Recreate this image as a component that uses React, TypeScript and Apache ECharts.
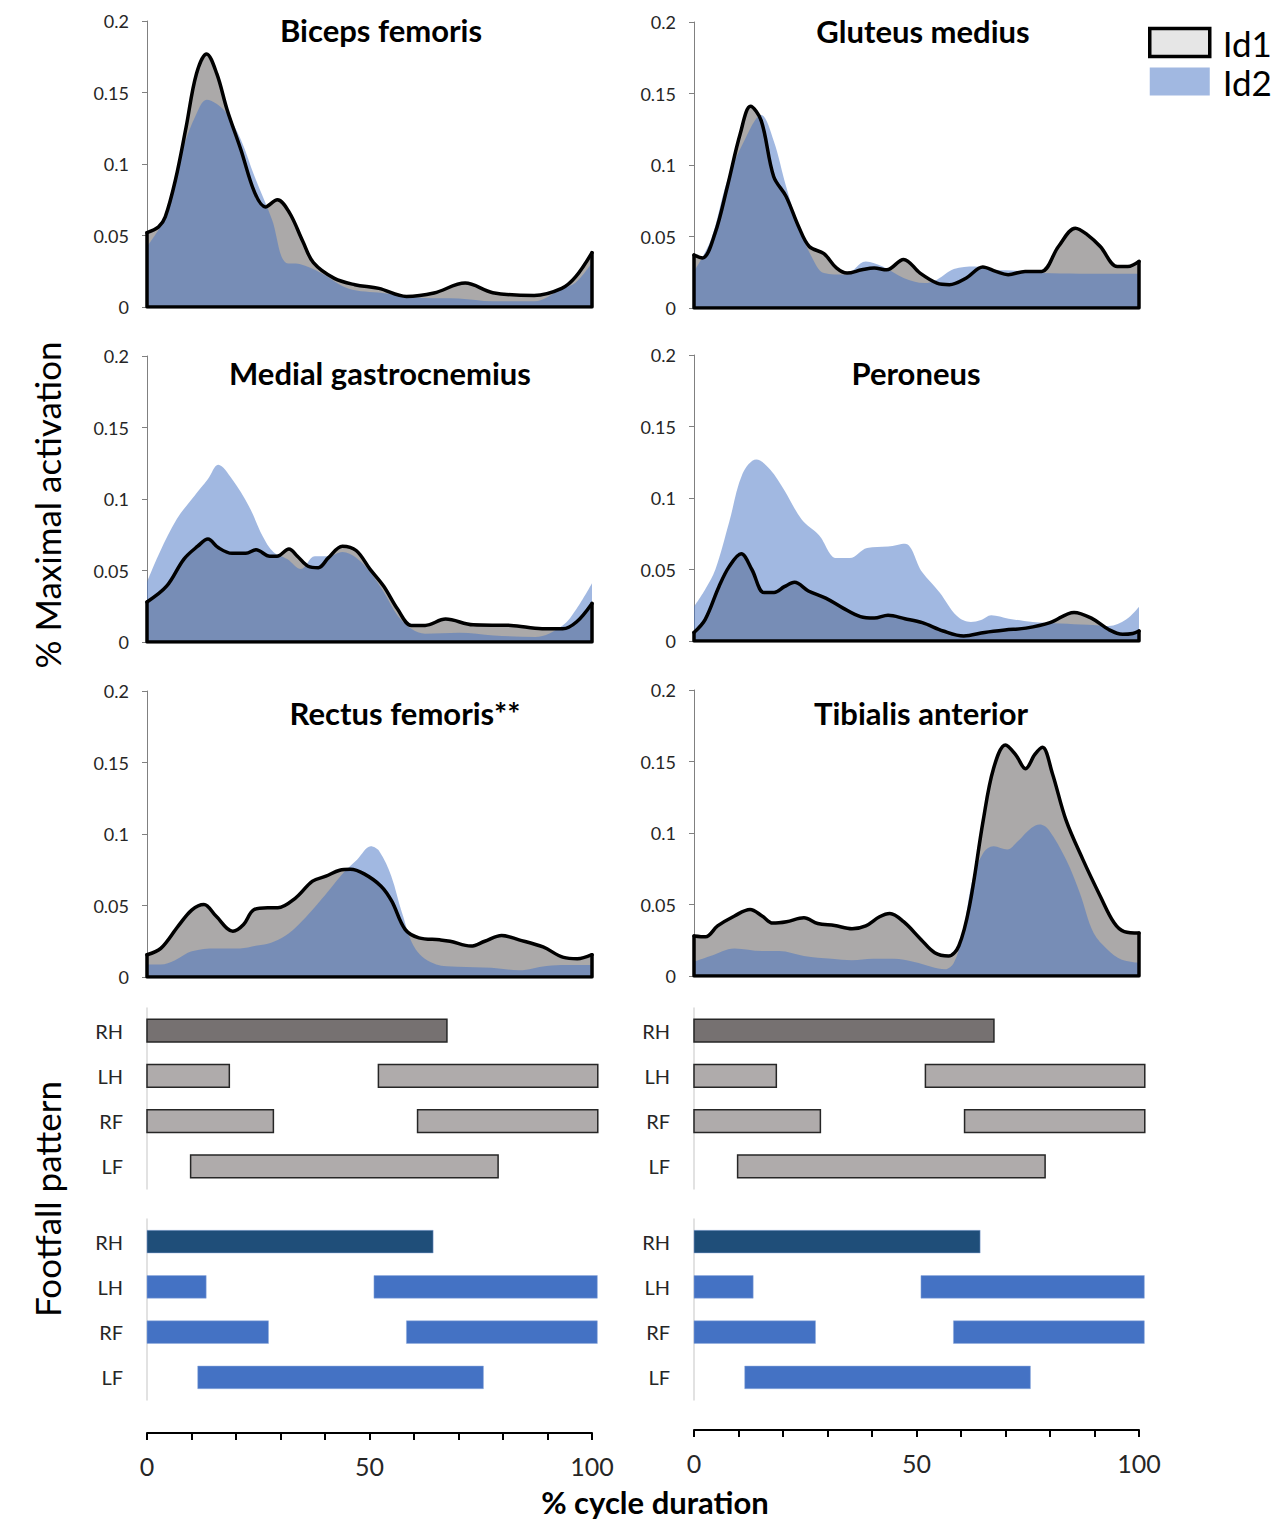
import React, { useEffect, useRef } from 'react';
import * as echarts from 'echarts';

// muscle panels, row by row (left, right)
const muscles = ['Biceps femoris', 'Gluteus medius', 'Medial gastrocnemius', 'Peroneus', 'Rectus femoris**', 'Tibialis anterior'];

// [% cycle, activation]
const bicepsId1 = [[0, 0.052], [2.6, 0.056], [4.1, 0.063], [6.4, 0.089], [8.8, 0.126], [11.1, 0.163], [13.4, 0.177], [15.7, 0.163], [18, 0.138], [21.1, 0.11], [24.2, 0.08], [26.6, 0.07], [29.3, 0.075], [32, 0.066], [35, 0.046], [37.4, 0.031], [42.1, 0.02], [46.7, 0.0156], [52.1, 0.013], [58.3, 0.0074], [64.5, 0.0098], [71.5, 0.0167], [77.7, 0.01], [87, 0.008], [93.2, 0.013], [96.3, 0.021], [100, 0.038]];
const bicepsId2 = [[0, 0.042], [2.6, 0.054], [4.1, 0.062], [6.2, 0.086], [8, 0.11], [11.1, 0.135], [13.4, 0.145], [15.7, 0.142], [18, 0.135], [21.1, 0.117], [24.2, 0.091], [28.1, 0.061], [31.2, 0.031], [34.3, 0.03], [39, 0.024], [45.2, 0.013], [52.9, 0.0098], [62.2, 0.0063], [70, 0.006], [77.7, 0.004], [87, 0.004], [93.2, 0.0126], [96.3, 0.017], [100, 0.031]];

const gluteusId1 = [[0, 0.037], [1.9, 0.035], [4.7, 0.052], [7.5, 0.085], [10.4, 0.122], [12.7, 0.141], [15.1, 0.131], [17.9, 0.092], [20.7, 0.078], [23.5, 0.057], [25.9, 0.043], [29.2, 0.038], [32, 0.028], [34.4, 0.0244], [37.7, 0.0267], [40.5, 0.028], [43.3, 0.0267], [47.1, 0.034], [50.8, 0.0244], [54.6, 0.0174], [57.4, 0.0163], [61.2, 0.021], [64.9, 0.0286], [67.8, 0.0256], [70.6, 0.0233], [74.4, 0.0256], [78.1, 0.0256], [81.9, 0.043], [85.7, 0.0558], [88.5, 0.051], [91.3, 0.043], [95.1, 0.029], [97.5, 0.029], [100, 0.0326]];
const gluteusId2 = [[0, 0.0256], [3.8, 0.0477], [7.5, 0.0895], [11.3, 0.117], [15.1, 0.135], [17.9, 0.117], [20.7, 0.085], [23.5, 0.057], [26.4, 0.036], [29.2, 0.0244], [33.9, 0.0233], [38.6, 0.0326], [42.4, 0.029], [47.1, 0.021], [51.8, 0.0174], [54.6, 0.0198], [58.4, 0.0272], [63.1, 0.029], [67.8, 0.0267], [72.5, 0.026], [78.1, 0.0244], [86.6, 0.024], [100, 0.024]];

const gastrocId1 = [[0, 0.028], [4.4, 0.039], [8.3, 0.058], [11.4, 0.067], [13.7, 0.072], [16, 0.066], [19.1, 0.062], [22.2, 0.062], [24.5, 0.0645], [27.6, 0.06], [29.2, 0.06], [31.9, 0.065], [33.8, 0.06], [36.2, 0.053], [38.5, 0.052], [40.8, 0.059], [43.9, 0.067], [47, 0.064], [50.1, 0.051], [53.2, 0.039], [56.3, 0.023], [59.4, 0.0116], [62.5, 0.0116], [67.1, 0.016], [73.3, 0.012], [81.8, 0.0116], [88.8, 0.0093], [93.4, 0.0093], [96.5, 0.014], [100, 0.027]];
const gastrocId2 = [[0, 0.042], [2.9, 0.063], [6.7, 0.086], [10.6, 0.102], [13.7, 0.114], [16, 0.124], [19.1, 0.114], [22.9, 0.095], [26, 0.074], [28.4, 0.063], [31.5, 0.058], [34.6, 0.051], [37.7, 0.06], [40.8, 0.06], [43.9, 0.063], [47, 0.059], [50.1, 0.049], [53.2, 0.035], [56.3, 0.0186], [59.4, 0.0093], [62.5, 0.0058], [70.2, 0.0065], [77.9, 0.0046], [87.2, 0.0035], [93.4, 0.0116], [96.5, 0.023], [100, 0.041]];

const peroneusId1 = [[0, 0.006], [2.5, 0.015], [5.6, 0.038], [7.9, 0.052], [10.6, 0.061], [13, 0.05], [15.7, 0.034], [18, 0.034], [20.3, 0.038], [22.6, 0.041], [25.7, 0.035], [29.6, 0.03], [33.5, 0.023], [37.4, 0.017], [40.5, 0.016], [43.6, 0.018], [47.4, 0.0156], [51.3, 0.0128], [56, 0.007], [60.6, 0.0035], [65.3, 0.006], [69.9, 0.0077], [74.6, 0.009], [80, 0.0128], [85.4, 0.02], [89.3, 0.016], [93.2, 0.008], [96.3, 0.0047], [98.6, 0.0053], [100, 0.007]];
const peroneusId2 = [[0, 0.024], [2.5, 0.036], [4.8, 0.05], [7.9, 0.083], [10.9, 0.117], [14, 0.127], [17.1, 0.12], [20.2, 0.106], [24.2, 0.085], [28.1, 0.074], [32, 0.058], [35, 0.058], [38.9, 0.065], [43.6, 0.066], [47.4, 0.068], [51.3, 0.048], [55.2, 0.034], [59.1, 0.0174], [62.2, 0.0133], [64.5, 0.0147], [66.8, 0.018], [70.7, 0.0156], [76.1, 0.0133], [82.3, 0.0123], [88.5, 0.0114], [93.2, 0.0105], [97.1, 0.015], [100, 0.024]];

const rectusId1 = [[0, 0.0156], [3.1, 0.02], [7, 0.0356], [10.1, 0.047], [12.8, 0.0507], [15.5, 0.0426], [19.3, 0.032], [21.7, 0.0367], [24, 0.047], [27.1, 0.0484], [29.4, 0.0484], [33.3, 0.055], [37.2, 0.067], [40.2, 0.0705], [43.3, 0.0747], [45.7, 0.0753], [48.8, 0.0721], [52.6, 0.0635], [55, 0.053], [58, 0.0333], [61.1, 0.0274], [65.8, 0.026], [68.1, 0.025], [72.8, 0.0216], [75.9, 0.025], [79.7, 0.029], [83.6, 0.026], [89, 0.021], [93.6, 0.0137], [96.7, 0.0128], [100, 0.0156]];
const rectusId2 = [[0, 0.0088], [3.1, 0.0088], [6.2, 0.0116], [10.1, 0.018], [15.5, 0.02], [20.9, 0.02], [24.8, 0.022], [27.9, 0.024], [31, 0.0286], [34.1, 0.0367], [37.2, 0.047], [41, 0.061], [44.1, 0.0728], [47.2, 0.082], [50.3, 0.0914], [52.2, 0.088], [54.9, 0.0705], [57.3, 0.045], [60.4, 0.0193], [65, 0.0088], [69.7, 0.0072], [77.4, 0.0065], [83.6, 0.0047], [89.8, 0.0077], [94.4, 0.0084], [100, 0.0084]];

const tibialisId1 = [[0, 0.028], [2.6, 0.0274], [5.3, 0.035], [9.1, 0.042], [12.6, 0.0465], [15.3, 0.042], [17.7, 0.037], [20.8, 0.038], [24.7, 0.0407], [27.8, 0.0367], [31.6, 0.0353], [35.5, 0.033], [38.6, 0.035], [41.7, 0.0414], [44, 0.0437], [47.1, 0.038], [51, 0.0256], [54.1, 0.0163], [57.2, 0.014], [59.5, 0.021], [61.9, 0.0488], [65, 0.109], [67.3, 0.145], [70, 0.1616], [72.3, 0.1547], [74.5, 0.145], [76.6, 0.155], [78.3, 0.16], [80.5, 0.142], [83.6, 0.109], [87.4, 0.0814], [91.3, 0.0558], [94.4, 0.0372], [96.7, 0.031], [100, 0.03]];
const tibialisId2 = [[0, 0.01], [3.7, 0.014], [9.1, 0.0193], [15.3, 0.0174], [19.1, 0.0174], [24.7, 0.014], [30.9, 0.012], [35.5, 0.011], [40.2, 0.012], [44.8, 0.012], [49.5, 0.0098], [53.3, 0.0065], [56.4, 0.0047], [58.4, 0.0093], [60.3, 0.028], [62.6, 0.0674], [65, 0.086], [67.3, 0.0907], [70.4, 0.0884], [72.7, 0.094], [75.8, 0.1035], [77.7, 0.106], [79.7, 0.1023], [83.6, 0.0814], [86.7, 0.058], [89.8, 0.03], [92.9, 0.0186], [96, 0.0116], [100, 0.0093]];

const id1Curves = [bicepsId1, gluteusId1, gastrocId1, peroneusId1, rectusId1, tibialisId1];
const id2Curves = [bicepsId2, gluteusId2, gastrocId2, peroneusId2, rectusId2, tibialisId2];

// footfall: stance phases [start, end] in % cycle, per limb
const limbs = ['RH', 'LH', 'RF', 'LF'];
const id1Stance = [[[0, 67.4]], [[0, 18.5], [52, 101.3]], [[0, 28.4], [60.8, 101.3]], [[9.8, 78.9]]];
const id2Stance = [[[0, 64.3]], [[0, 13.3], [51, 101.2]], [[0, 27.3], [58.3, 101.2]], [[11.4, 75.6]]];

const xTickLabels = [0, 50, 100];

const FONT = 'Lato, "Open Sans", sans-serif';

const App: React.FC = () => {
  const chartRef = useRef<HTMLDivElement>(null);

  useEffect(() => {
    if (!chartRef.current) return;
    const chart = echarts.init(chartRef.current, null, { renderer: 'svg' });

    const colLeft = [147, 694];
    const plotW = 445;
    const plotTops = [21, 22, 356, 355, 691, 690];
    const plotH = 286;
    const titleX = [381, 923, 380, 916, 405, 921];
    const titleY = [30, 31, 373, 373, 713, 713];
    const footTops = [1008, 1219];
    const footH = 181;
    const axisYs = [1433, 1430];

    const grid: any[] = [];
    const xAxis: any[] = [];
    const yAxis: any[] = [];
    const series: any[] = [];
    const graphic: any[] = [];

    // activation panels
    id1Curves.forEach((c1, i) => {
      const col = i % 2;
      const g = grid.length;
      grid.push({ left: colLeft[col], top: plotTops[i], width: plotW, height: plotH });
      xAxis.push({ type: 'value', gridIndex: g, min: 0, max: 100, show: false });
      yAxis.push({
        type: 'value', gridIndex: g, min: 0, max: 0.2, interval: 0.05,
        axisLine: { show: true, lineStyle: { color: '#808080', width: 1 } },
        axisTick: { show: true, length: 5, lineStyle: { color: '#808080' } },
        axisLabel: { fontSize: 18, fontFamily: FONT, color: '#262626', margin: 18 },
        splitLine: { show: false },
      });
      const c2 = id2Curves[i];
      series.push({
        name: 'Id1', type: 'line', xAxisIndex: g, yAxisIndex: g, data: c1,
        smooth: 0.35, symbol: 'none',
        lineStyle: { color: '#000', width: 3.5, cap: 'round', join: 'round' },
        areaStyle: { color: '#aba9a9', opacity: 1 },
        itemStyle: { color: '#aba9a9' },
      });
      series.push({
        type: 'line', xAxisIndex: g, yAxisIndex: g,
        data: [[0, c1[0][1]], [0, 0], [100, 0], [100, c1[c1.length - 1][1]]],
        symbol: 'none', lineStyle: { color: '#000', width: 3.5, cap: 'round', join: 'round' },
      });
      series.push({
        name: 'Id2', type: 'line', xAxisIndex: g, yAxisIndex: g, data: c2,
        smooth: 0.35, symbol: 'none',
        lineStyle: { opacity: 0 },
        areaStyle: { color: '#4472c4', opacity: 0.5 },
        itemStyle: { color: '#a1b8e1' },
      });
      graphic.push({
        type: 'text', x: titleX[i], y: titleY[i],
        style: { text: muscles[i], fontSize: 31, fontWeight: 'bold', fontFamily: FONT, fill: '#000', align: 'center', verticalAlign: 'middle' },
      });
    });

    // footfall panels
    [id1Stance, id2Stance].forEach((stance, gi) => {
      const flat: number[][] = [];
      stance.forEach((phases, k) => phases.forEach(([s, e]) => flat.push([s, e, k])));
      colLeft.forEach((left) => {
        const g = grid.length;
        grid.push({ left, top: footTops[gi], width: plotW, height: footH });
        xAxis.push({ type: 'value', gridIndex: g, min: 0, max: 100, show: false });
        yAxis.push({
          type: 'category', gridIndex: g, data: limbs, inverse: true,
          axisLine: { show: true, lineStyle: { color: '#d9d9d9', width: 1.5 } },
          axisTick: { show: false },
          axisLabel: { fontSize: 20, fontFamily: FONT, color: '#262626', margin: 24 },
        });
        series.push({
          type: 'custom', xAxisIndex: g, yAxisIndex: g, clip: false,
          encode: { x: [0, 1], y: 2 },
          data: flat,
          renderItem: (params: any, api: any) => {
            const k = api.value(2);
            const a = api.coord([api.value(0), k]);
            const b = api.coord([api.value(1), k]);
            const h = api.size([0, 1])[1] * 0.5;
            const fill = gi === 0 ? (k === 0 ? '#767171' : '#afabab') : (k === 0 ? '#1f4e79' : '#4472c4');
            return {
              type: 'rect',
              shape: { x: a[0], y: a[1] - h / 2, width: b[0] - a[0], height: h },
              style: gi === 0 ? { fill, stroke: '#262626', lineWidth: 1.5 } : { fill, stroke: '#8faadc', lineWidth: 0.5 },
            };
          },
        });
      });
    });

    // bottom % cycle axes
    colLeft.forEach((left, c) => {
      const g = grid.length;
      grid.push({ left, top: axisYs[c] - 1, width: plotW, height: 1 });
      xAxis.push({
        type: 'value', gridIndex: g, min: 0, max: 100, interval: 10, position: 'bottom',
        axisLine: { show: true, lineStyle: { color: '#000', width: 2 } },
        axisTick: { show: true, length: 7, lineStyle: { color: '#000', width: 2 } },
        axisLabel: {
          fontSize: 25, fontFamily: FONT, color: '#262626', margin: 20,
          formatter: (v: number) => (xTickLabels.includes(v) ? String(v) : ''),
        },
        splitLine: { show: false },
      });
      yAxis.push({ type: 'value', gridIndex: g, show: false, min: 0, max: 1 });
      series.push({ type: 'line', xAxisIndex: g, yAxisIndex: g, data: [] });
    });

    graphic.push(
      {
        type: 'text', x: 47, y: 505, rotation: Math.PI / 2,
        style: { text: '% Maximal activation', fontSize: 35, fontFamily: FONT, fill: '#000', align: 'center', verticalAlign: 'middle' },
      },
      {
        type: 'text', x: 47, y: 1199, rotation: Math.PI / 2,
        style: { text: 'Footfall pattern', fontSize: 35, fontFamily: FONT, fill: '#000', align: 'center', verticalAlign: 'middle' },
      },
      {
        type: 'text', x: 655, y: 1502,
        style: { text: '% cycle duration', fontSize: 31, fontWeight: 'bold', fontFamily: FONT, fill: '#000', align: 'center', verticalAlign: 'middle' },
      },
    );

    chart.setOption({
      animation: false,
      backgroundColor: '#fff',
      grid, xAxis, yAxis, series, graphic,
      legend: {
        orient: 'vertical', left: 1143, top: 20,
        itemWidth: 60, itemHeight: 28, itemGap: 4,
        selectedMode: false,
        textStyle: { fontSize: 35, fontFamily: FONT, color: '#000', padding: [0, 0, 0, 8] },
        data: [
          { name: 'Id1', icon: 'rect', itemStyle: { color: '#e6e6e6', borderColor: '#000', borderWidth: 3.5 } },
          { name: 'Id2', icon: 'rect', itemStyle: { color: '#a1b8e1', borderWidth: 0 } },
        ],
      },
    });

    return () => {
      chart.dispose();
    };
  }, []);

  return <div ref={chartRef} style={{ position: 'absolute', left: 0, top: 0, width: 1276, height: 1520, background: '#fff' }}></div>;
};

export default App;
